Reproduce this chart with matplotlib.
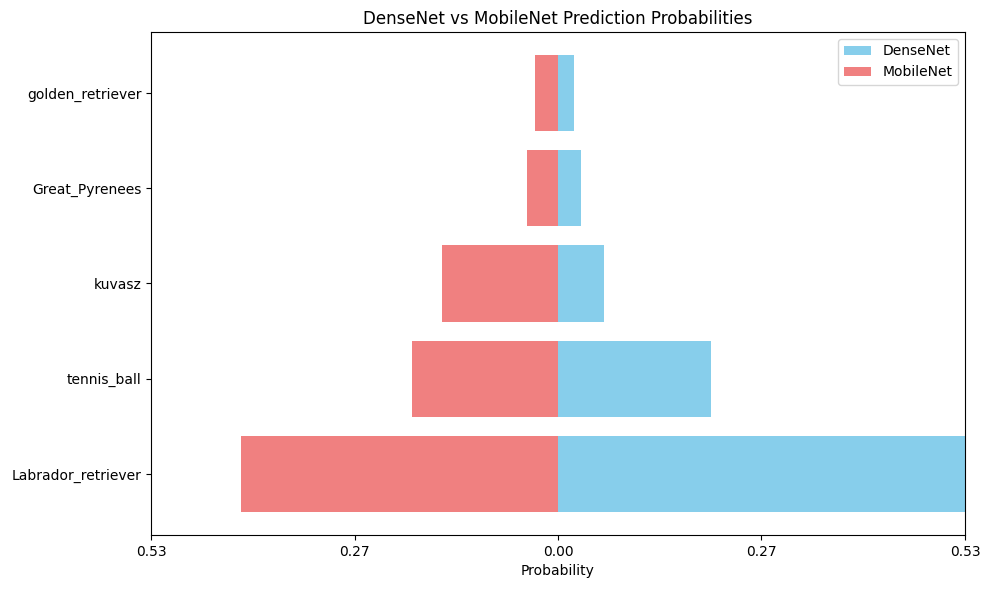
import matplotlib
matplotlib.use("Agg")
import matplotlib.pyplot as plt
import numpy as np

labels = ["Labrador_retriever", "tennis_ball", "kuvasz", "Great_Pyrenees", "golden_retriever"]
densenet = [0.531, 0.200, 0.060, 0.030, 0.021]
mobilenet = [0.413, 0.191, 0.151, 0.040, 0.030]


def main():
    fig, ax = plt.subplots(figsize=(9.89, 5.9))
    y = np.arange(len(labels))
    ax.barh(y, densenet, color="skyblue", label="DenseNet")
    ax.barh(y, [-v for v in mobilenet], color="lightcoral", label="MobileNet")

    lim = max(max(densenet), max(mobilenet))
    ax.set_xlim(-lim, lim)
    ticks = np.linspace(-lim, lim, 5)
    ax.set_xticks(ticks)
    ax.set_xticklabels([f"{abs(t):.2f}" for t in ticks])
    ax.set_yticks(y)
    ax.set_yticklabels(labels)
    ax.set_xlabel("Probability")
    ax.set_title("DenseNet vs MobileNet Prediction Probabilities")
    ax.legend(loc="upper right")
    fig.subplots_adjust(left=0.1527, right=0.9757, top=0.9458, bottom=0.0932)
    fig.savefig("out.png", dpi=100)


if __name__ == "__main__":
    main()
